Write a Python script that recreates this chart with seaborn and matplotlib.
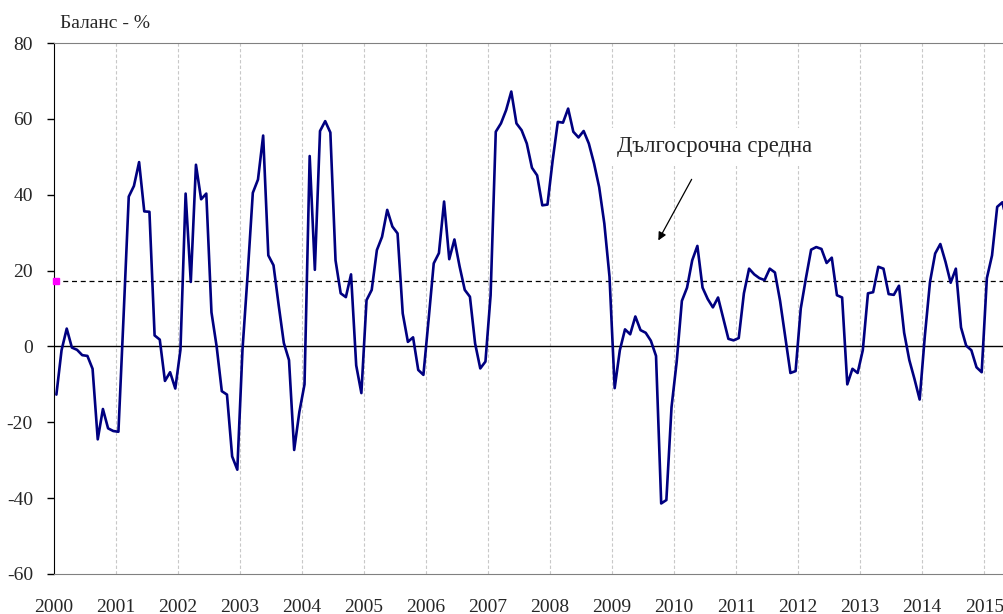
import numpy as np
import pandas as pd
import seaborn as sns
import matplotlib.pyplot as plt

# monthly balance, Jan 2000 onwards (%)
balance = [
    -12.7, -1.0, 4.7, -0.3, -0.9, -2.3, -2.5, -5.9, -24.5, -16.5, -21.6, -22.3,   # 2000
    -22.5, 8.0, 39.5, 42.3, 48.6, 35.6, 35.5, 2.9, 1.8, -9.1, -6.8, -11.1,        # 2001
    -0.9, 40.3, 17.0, 47.9, 38.8, 40.3, 9.0, 0.0, -11.8, -12.7, -29.0, -32.5,     # 2002
    -0.9, 19.0, 40.5, 44.0, 55.6, 24.0, 21.4, 10.9, 0.9, -3.6, -27.3, -17.3,      # 2003
    -10.0, 50.2, 20.2, 56.8, 59.4, 56.4, 22.7, 14.0, 13.0, 19.0, -5.0, -12.3,     # 2004
    12.2, 14.9, 25.4, 28.9, 36.0, 31.6, 29.8, 8.7, 1.2, 2.4, -6.2, -7.5,          # 2005
    7.0, 21.9, 24.6, 38.2, 23.0, 28.2, 21.1, 14.9, 13.1, 0.8, -5.8, -4.0,         # 2006
    13.5, 56.6, 58.8, 62.3, 67.2, 58.8, 57.0, 53.5, 47.1, 45.1, 37.2, 37.4,       # 2007
    49.0, 59.2, 59.0, 62.7, 56.6, 55.1, 56.8, 53.5, 48.3, 42.0, 32.4, 18.4,       # 2008
    -11.0, -1.0, 4.5, 3.2, 7.9, 4.3, 3.6, 1.5, -2.5, -41.4, -40.5, -16.0,         # 2009
    -4.0, 12.0, 15.5, 22.7, 26.5, 15.5, 12.5, 10.3, 12.9, 7.5, 2.0, 1.6,          # 2010
    2.2, 14.0, 20.5, 19.0, 18.0, 17.5, 20.5, 19.5, 12.0, 2.5, -7.0, -6.5,         # 2011
    10.0, 18.0, 25.5, 26.2, 25.7, 22.0, 23.4, 13.5, 12.9, -10.0, -5.9, -7.0,      # 2012
    -1.0, 14.0, 14.3, 21.0, 20.5, 13.8, 13.6, 16.0, 3.6, -3.6, -8.6, -14.0,       # 2013
    2.7, 17.0, 24.5, 27.0, 22.3, 16.8, 20.5, 5.0, 0.2, -1.0, -5.5, -6.8,          # 2014
    18.0, 24.0, 36.8, 38.0, 32.0,                                                  # 2015
]
long_term_mean = 17.3
years = list(range(2000, 2016))
y_ticks = list(range(-60, 81, 20))

df = pd.DataFrame({'year': 2000 + (np.arange(len(balance)) + 0.5) / 12,
                   'balance': balance})

sns.set_style('white')
plt.rcParams['font.family'] = ['Liberation Serif', 'DejaVu Serif']
plt.rcParams['axes.unicode_minus'] = False

fig = plt.figure(figsize=(10.04, 6.14), dpi=100)
ax = fig.add_axes([53.8 / 1004, 40 / 614, (1004 - 53.8) / 1004, 531 / 614])

for yr in years[1:]:
    ax.axvline(yr, color='#c8c8c8', lw=0.8, ls=(0, (3, 2)), zorder=0)
ax.axhline(0, color='black', lw=1.0, zorder=1)
ax.axhline(long_term_mean, color='black', lw=0.9, ls=(0, (4, 3)), zorder=1)

sns.lineplot(data=df, x='year', y='balance', color='#000080', lw=1.9, ax=ax, zorder=3)
ax.plot(df['year'].iloc[0], long_term_mean, marker='s', ms=4, color='#ff00ff',
        ls='none', clip_on=False, zorder=4)

ax.set_xlim(2000, 2015.318)
ax.set_ylim(-60, 80)
ax.set_xticks(years)
ax.set_xticklabels([str(y) for y in years])
ax.set_yticks(y_ticks)
ax.tick_params(axis='x', length=0, pad=18, labelsize=14)
ax.tick_params(axis='y', length=5, width=1, direction='out', pad=10, labelsize=14,
               left=True, color='black')
ax.set_xlabel('')
ax.set_ylabel('')
ax.spines['left'].set_color('black')
ax.spines['bottom'].set_color('#808080')
ax.spines['top'].set_color('#808080')
ax.spines['right'].set_visible(False)

fig.text(60 / 1004, 1 - 28 / 614, 'Баланс - %', fontsize=14, ha='left', va='baseline')
ax.text(2010.66, 52.6, 'Дългосрочна средна', fontsize=16.3, ha='center', va='center',
        bbox=dict(facecolor='white', edgecolor='none', pad=6), zorder=2)
ax.annotate('', xy=(2009.724, 27.3), xytext=(2010.304, 44.7),
            arrowprops=dict(arrowstyle='-|>', color='black', lw=0.9, mutation_scale=12),
            zorder=2)

fig.savefig('out.png', dpi=100)
